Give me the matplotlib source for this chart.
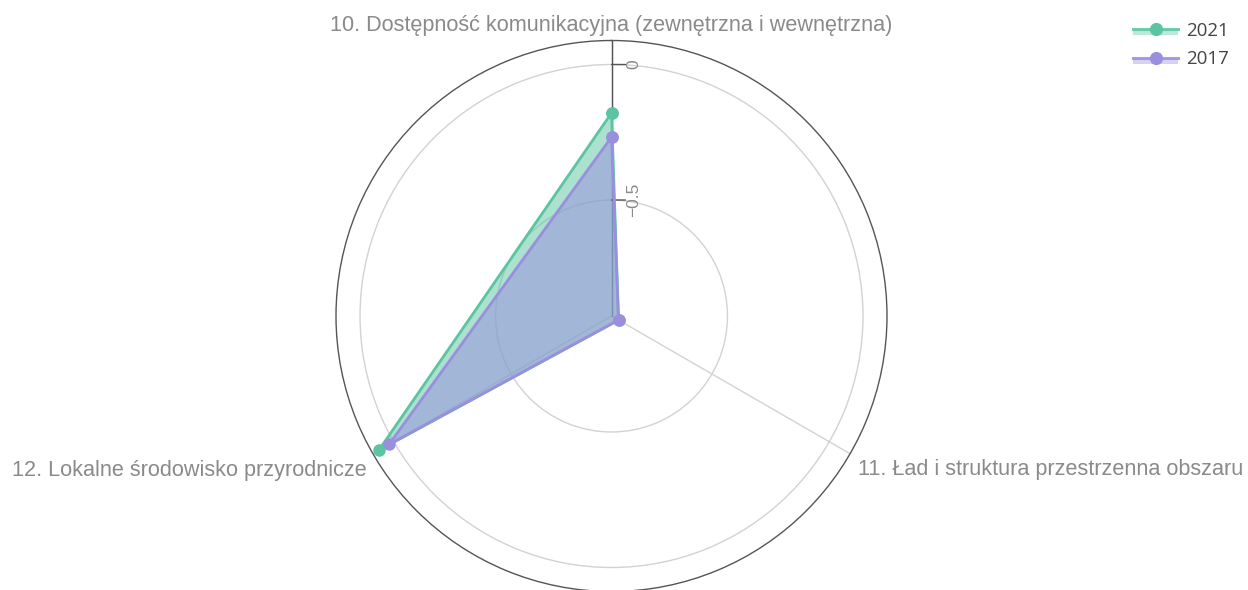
import numpy as np
import matplotlib
matplotlib.use('Agg')
import matplotlib.pyplot as plt
from matplotlib.legend_handler import HandlerBase
from matplotlib.patches import Rectangle
from matplotlib.lines import Line2D

categories = ['10. Dostępność komunikacyjna (zewnętrzna i wewnętrzna)',
              '11. Ład i struktura przestrzenna obszaru',
              '12. Lokalne środowisko przyrodnicze']
series_names = ['2021', '2017']
values_2021 = [-0.179, -0.898, 0.064]
values_2017 = [-0.268, -0.898, 0.020]
radial_ticks = [-0.5, 0]
radial_ticklabels = ['\u22120.5', '0']
r_min, r_max = -0.928, 0.0886

colors = {'2021': '#5bc5a1', '2017': '#9a8fdf'}
label_color = '#8a8a8a'
plt.rcParams['font.family'] = ['Liberation Sans', 'DejaVu Sans']


class FillLineHandler(HandlerBase):
    # plotly-like legend symbol: line + marker with a shaded band underneath
    def create_artists(self, legend, orig_handle, xdescent, ydescent,
                       width, height, fontsize, trans):
        c = orig_handle.get_color()
        x0, y0 = -xdescent, -ydescent
        ymid = y0 + height / 2
        band = Rectangle((x0, ymid - height * 0.45), width, height * 0.45,
                         facecolor=c, alpha=0.4, edgecolor='none', transform=trans)
        line = Line2D([x0, x0 + width], [ymid, ymid], color=c, lw=2.2,
                      alpha=0.85, transform=trans)
        mark = Line2D([x0 + width / 2], [ymid], marker='o', ms=8.5, color=c,
                      ls='none', transform=trans)
        return [band, line, mark]


W, H = 1248, 590
fig = plt.figure(figsize=(W / 100, H / 100), dpi=100)
cx, cy, rad = 611.5, 316, 275.5
ax = fig.add_axes([(cx - rad) / W, 1 - (cy + rad) / H, 2 * rad / W, 2 * rad / H],
                  projection='polar')
ax.set_theta_zero_location('N')
ax.set_theta_direction(-1)

theta = np.deg2rad(np.arange(len(categories)) * 360 / len(categories))
ax.set_ylim(r_min, r_max)

ax.set_xticks(theta)
ax.set_xticklabels([])
ax.set_yticks(radial_ticks)
ax.set_yticklabels([])
ax.xaxis.grid(True, color='#d2d2d2', lw=1)
ax.yaxis.grid(True, color='#d2d2d2', lw=1)
ax.spines['polar'].set_color('#555555')
ax.spines['polar'].set_linewidth(1)
ax.tick_params(length=0)

# radial axis line along the first category
ax.plot([0, 0], [r_min, r_max], color='#555555', lw=1, zorder=1.9)
for t, lab in zip(radial_ticks, radial_ticklabels):
    ax.annotate('', xy=(0, t), xytext=(14, 0), textcoords='offset pixels',
                arrowprops=dict(arrowstyle='-', color='#555555', lw=1,
                                shrinkA=0, shrinkB=0))
    ax.annotate(lab, xy=(0, t), xytext=(22, 0), textcoords='offset pixels',
                rotation=90, ha='center', va='center', fontsize=12.5,
                color=label_color)

handles = []
for name, vals in zip(series_names, [values_2021, values_2017]):
    th = np.append(theta, theta[0])
    rv = np.append(vals, vals[0])
    c = colors[name]
    ax.fill(th, rv, color=c, alpha=0.5, lw=0, zorder=2)
    h, = ax.plot(th, rv, color=c, lw=2, marker='o', ms=8, zorder=3, label=name)
    handles.append(h)

# category labels around the outside
ax.annotate(categories[0], xy=(theta[0], r_max), xytext=(0, 9),
            textcoords='offset pixels', ha='center', va='baseline',
            fontsize=15.6, color=label_color, annotation_clip=False)
ax.annotate(categories[1], xy=(theta[1], r_max), xytext=(8, -21),
            textcoords='offset pixels', ha='left', va='baseline',
            fontsize=15.6, color=label_color, annotation_clip=False)
ax.annotate(categories[2], xy=(theta[2], r_max), xytext=(-6, -22),
            textcoords='offset pixels', ha='right', va='baseline',
            fontsize=15.6, color=label_color, annotation_clip=False)

fig.legend(handles=handles, labels=series_names, loc='upper left',
           bbox_to_anchor=(1133 / W, 1 - 22 / H), frameon=False,
           borderpad=0, borderaxespad=0, handlelength=2.4, handletextpad=0.45,
           labelspacing=0.55, prop={'family': 'Open Sans', 'size': 13.5},
           labelcolor='#444444',
           handler_map={Line2D: FillLineHandler()})

fig.savefig('out.png', dpi=100)
